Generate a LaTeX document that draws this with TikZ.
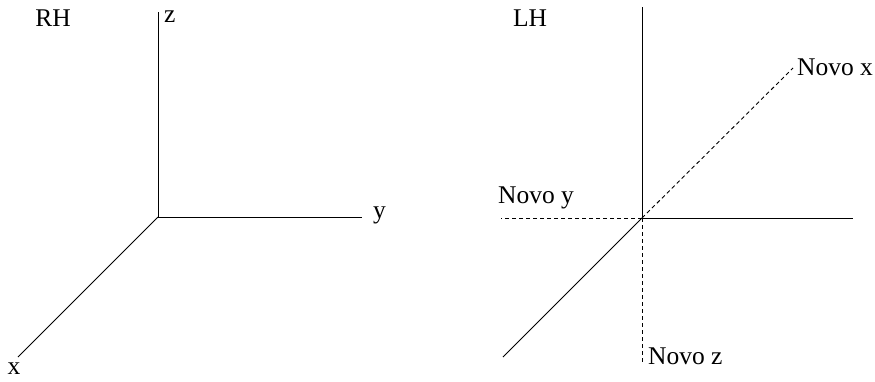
\documentclass[tikz,border=0pt]{standalone}
\usepackage{fontspec}
\setmainfont{Liberation Serif}
\begin{document}
\begin{tikzpicture}[x=1pt,y=-1pt,
  axis/.style={line width=0.9pt},
  daxis/.style={line width=0.9pt,dash pattern=on 4pt off 3pt},
  lbl/.style={font=\fontsize{25.5}{28}\selectfont,inner sep=0pt}]
\useasboundingbox (0,0) rectangle (875,381);
% left
\coordinate (O1) at (158,217);
\coordinate (z1) at (158,12);
\coordinate (y1) at (362,217);
\coordinate (x1) at (18,357);
\draw[axis] (O1) -- (z1);
\draw[axis] (O1) -- (y1);
\draw[axis] (O1) -- (x1);
\node[lbl,anchor=west] (zl) at (164,17) {z};
\node[lbl,anchor=west] (yl) at (373,215) {y};
\node[lbl] (xl) at (14,369) {x};
\node[lbl] (rh) at (53,18) {RH};
% right
\coordinate (O2) at (642,218);
\coordinate (zu) at (642,7);
\coordinate (yr) at (853,218);
\coordinate (yd) at (501,218);
\coordinate (zd) at (642,362);
\coordinate (xd) at (503,357);
\coordinate (xu) at (793,68);
\draw[axis] (O2) -- (zu);
\draw[axis] (O2) -- (yr);
\draw[axis] (O2) -- (xd);
\draw[daxis] (O2) -- (yd);
\draw[daxis] (O2) -- (zd);
\draw[daxis] (O2) -- (xu);
\node[lbl] (lh) at (530,18) {LH};
\node[lbl,anchor=west] (nx) at (797,67) {Novo x};
\node[lbl,anchor=west] (ny) at (498,198) {Novo y};
\node[lbl,anchor=west] (nz) at (648,356) {Novo z};
\end{tikzpicture}
\end{document}
